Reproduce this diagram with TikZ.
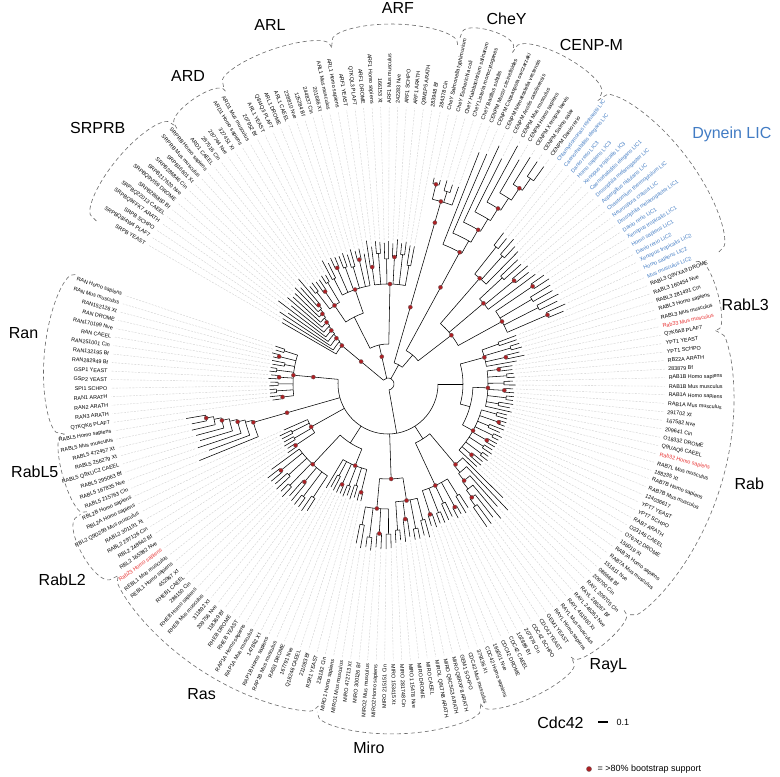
\documentclass[tikz,border=0pt]{standalone}
\usepackage{fontspec}
\setmainfont{Liberation Sans}
\definecolor{dotred}{RGB}{172,32,36}
\definecolor{dynblue}{RGB}{66,124,196}
\definecolor{hired}{RGB}{232,48,48}
\definecolor{guidec}{RGB}{205,205,205}
\definecolor{outc}{RGB}{105,105,105}
\newcommand{\thz}{98.6}
\newcommand{\dth}{1.769}
\newcommand{\RR}{280}
\newcommand{\setang}[2]{\pgfmathsetmacro#1{\thz-((#2)+5.5*((#2)>168))*\dth}}
\newcommand{\leaf}[3]{%
  \setang\lfA{#1}%
  \pgfmathsetmacro\lfT{#3-0.25*(#3-#2)*abs(sin((#1)*77))}%
  \draw[br] (\lfA:#2) -- (\lfA:\lfT);%
  \pgfmathsetmacro\lfG{\lfT+3}\pgfmathsetmacro\lfE{\RR-3}%
  \draw[guide] (\lfA:\lfG) -- (\lfA:\lfE);}
\newcommand{\grp}[5]{%
  \setang\gA{#1}\setang\gB{#2}%
  \pgfmathsetmacro\gM{(\gA+\gB)/2}%
  \draw[br] (\gM:#3) -- (\gM:#4);%
  \pgfmathtruncatemacro\gN{#1+2}%
  \pgfmathtruncatemacro\gL{#1+2*floor((#2-#1)/2)}%
  \setang\pA{#1}\setang\pAA{#1+1}\pgfmathsetmacro\pA{(\pA+\pAA)/2}%
  \ifnum\gL<#2\relax \setang\pB{\gL}\setang\pBB{\gL+1}\pgfmathsetmacro\pB{(\pB+\pBB)/2}\else\setang\pB{\gL}\fi
  \draw[br] (\pA:#4) arc[start angle=\pA, end angle=\pB, radius=#4pt];%
  \foreach \k in {#1,\gN,...,#2}{%
    \pgfmathtruncatemacro\kk{\k+1}%
    \ifnum\kk>#2\relax \leaf{\k}{#4}{#5}%
    \else
      \setang\ka{\k}\setang\kb{\kk}%
      \pgfmathsetmacro\km{(\ka+\kb)/2}%
      \pgfmathsetmacro\rs{#4+(#5-#4)*(0.4+0.3*abs(sin(\k*53)))}%
      \draw[br] (\km:#4) -- (\km:\rs);%
      \draw[br] (\ka:\rs) arc[start angle=\ka, end angle=\kb, radius=\rs pt];%
      \leaf{\k}{\rs}{#5}\leaf{\kk}{\rs}{#5}%
      \pgfmathtruncatemacro\kmod{mod(\k,3)}%
      \ifnum\kmod=0 \fill[dot] (\km:\rs) circle[radius=2.1pt];\fi
    \fi}%
  \fill[dot] (\gM:#4) circle[radius=2.1pt];}
\newcommand{\lad}[6]{%
  \setang\lA{#1}\setang\lB{#2}%
  \pgfmathsetmacro\lM{(\lA+\lB)/2}%
  \draw[br] (\lM:#3) -- (\lM:#4);%
  \pgfmathtruncatemacro\lN{#2-1}%
  \foreach \k in {#1,...,\lN}{%
    \pgfmathsetmacro\rk{#4+(#5-#4)*(\k-#1)/max(1,\lN-#1)}%
    \pgfmathsetmacro\rkn{#4+(#5-#4)*(\k+1-#1)/max(1,\lN-#1)}%
    \setang\tk{\k}\setang\tl{#2}%
    \pgfmathtruncatemacro\kn{\k+1}\setang\tn{\kn}%
    \pgfmathsetmacro\phk{(\tk+\tl)/2}%
    \ifnum\k<\lN\relax \pgfmathsetmacro\phn{(\tn+\tl)/2}\else \pgfmathsetmacro\phn{\tl}\fi
    \draw[br] (\tk:\rk) arc[start angle=\tk, end angle=\phn, radius=\rk pt];%
    \leaf{\k}{\rk}{#6}%
    \ifnum\k<\lN\relax \draw[br] (\phn:\rk) -- (\phn:\rkn);\else \leaf{#2}{\rk}{#6}\fi
    \pgfmathtruncatemacro\kmod{mod(\k-#1,2)}%
    \ifnum\kmod=0 \fill[dot] (\phk:\rk) circle[radius=2.1pt];\fi}}
\newcommand{\labs}[3]{%
  \foreach \t [count=\j from #1] in {#3}{%
    \setang\lbA{\j}%
    \pgfmathsetmacro\lbC{cos(\lbA)}%
    \ifdim\lbC pt>0pt
      \node[leaflab,text=#2,anchor=west,rotate=\lbA] at (\lbA:\RR) {\t};%
    \else
      \pgfmathsetmacro\lbB{\lbA+180}%
      \node[leaflab,text=#2,anchor=east,rotate=\lbB] at (\lbA:\RR) {\t};%
    \fi}}
\newcommand{\outl}[4]{%
  \setang\oA{#1}\setang\oB{#2}%
  \pgfmathsetmacro\oA{\oA+0.5*\dth}\pgfmathsetmacro\oB{\oB-0.5*\dth}%
  \draw[outline] plot[domain=0:1,samples=50,smooth,variable=\u]
    ({\oA+(\oB-\oA)*\u}:{#4+(#3-#4)*(1.0001-(2*\u-1)*(2*\u-1))^0.25});}
\newcommand{\glab}[4]{\node[grplab,text=#4] at (#2:#3) {#1};}
\tikzset{
  br/.style={line width=0.55pt, black},
  guide/.style={line width=0.35pt, guidec, dash pattern=on 2pt off 1.3pt},
  outline/.style={line width=0.6pt, outc, dash pattern=on 4pt off 3pt},
  dot/.style={fill=dotred, draw=black!60, line width=0.25pt},
  leaflab/.style={font=\fontsize{5.4}{6}\selectfont, inner sep=0.6pt},
  grplab/.style={font=\fontsize{16}{19}\selectfont, inner sep=0pt},
}
\begin{document}
\begin{tikzpicture}[x=1pt,y=1pt]
\useasboundingbox (0,0) rectangle (780,777);
\fill[white] (0,0) rectangle (780,777);
\begin{scope}[shift={(388,393)}]
% ---------- backbone ----------
\draw[br] (-80:6) arc[start angle=-80, end angle=140.2, radius=6pt];
\draw[br] (-80:6) -- (-80:50);
\draw[br] (0:50) arc[start angle=0, end angle=-185.3, radius=50pt];
% RabL3 + Rab
\draw[br] (0:50) -- (0:75);
\draw[br] (15.5:75) arc[start angle=15.5, end angle=-15.5, radius=75pt];
\grp{44}{50}{75}{100}{140}
\draw[br] (-15.5:75) -- (-15.5:85);
\draw[br] (-2.2:85) arc[start angle=-2.2, end angle=-28.8, radius=85pt];
\grp{51}{63}{85}{100}{128}
\grp{64}{80}{85}{97}{126}
% RayL + Cdc42
\draw[br] (-57.5:50) -- (-57.5:65);
\draw[br] (-50:65) arc[start angle=-50, end angle=-65.1, radius=65pt];
\lad{81}{87}{65}{105}{150}{178}
\grp{88}{97}{65}{112}{152}
% Miro
\draw[br] (-88.1:50) -- (-88.1:95);
\draw[br] (-81:95) arc[start angle=-81, end angle=-95.1, radius=95pt];
\fill[dot] (-88.1:95) circle[radius=2.1pt];
\grp{98}{105}{95}{118}{160}
\grp{106}{113}{95}{125}{168}
% Ras
\draw[br] (-122.6:50) -- (-122.6:70);
\draw[br] (-112:70) arc[start angle=-112, end angle=-133.2, radius=70pt];
\grp{114}{124}{70}{88}{122}
\grp{125}{137}{70}{110}{155}
% RabL2, RabL5, Ran
\grp{138}{144}{50}{88}{122}
\lad{145}{152}{50}{140}{185}{205}
\fill[dot] (-164.1:105) circle[radius=2.1pt];
\grp{153}{168}{50}{95}{120}
\fill[dot] (-185.3:75) circle[radius=2.1pt];
% upper right: CheY, CENP-M, Dynein
\draw[br] (61:6) -- (61:22);
\draw[br] (73.8:22) arc[start angle=73.8, end angle=49.55, radius=22pt];
\grp{12}{16}{22}{190}{212}
\fill[dot] (73.8:80) circle[radius=2.1pt];
\fill[dot] (73.8:168) circle[radius=2.1pt];
\draw[br] (49.55:22) -- (49.55:38);
\draw[br] (61.5:38) arc[start angle=61.5, end angle=37.6, radius=38pt];
\lad{17}{25}{38}{150}{250}{272}
\fill[dot] (61.5:110) circle[radius=2.1pt];
\draw[br] (37.6:38) -- (37.6:80);
\draw[br] (49.1:80) arc[start angle=49.1, end angle=28.7, radius=80pt];
\fill[dot] (37.6:80) circle[radius=2.1pt];
\grp{26}{30}{80}{140}{192}
\grp{31}{35}{80}{125}{185}
\grp{36}{43}{80}{130}{195}
% ARF, ARL, ARD
\draw[br] (102.8:6) -- (102.8:40);
\draw[br] (88.9:40) arc[start angle=88.9, end angle=116.75, radius=40pt];
\fill[dot] (102.8:28) circle[radius=2.1pt];
\grp{0}{11}{40}{100}{145}
\draw[br] (116.75:40) -- (116.75:75);
\draw[br] (109.2:75) arc[start angle=109.2, end angle=124.3, radius=75pt];
\grp{187}{197}{75}{100}{140}
\grp{181}{186}{75}{95}{128}
% SRPRB
\lad{169}{180}{6}{60}{105}{138}
\fill[dot] (140.2:35) circle[radius=2.1pt];
% ---------- leaf labels ----------
\labs{0}{black}{ARF1 YEAST, Q7KQL3 PLAF7, ARF1 DROME, ARF1 Homo sapiens, 166153 Xt, ARF1 Mus musculus, 242283 Nve, ARF1 SCHPO, ARF1 ARATH, Q9M1P5 ARATH, 283948 Bf, 284378 Cin}
\labs{12}{black}{CheY Salmonella typhimurium, CheY Escherichia coli, CheY Halobacterium salinarum, CheY Listeria monocytogenes, CheY Bacillus subtilis}
\labs{17}{black}{CENPM Mucor circinelloides, CENPM Capsaspora owczarzaki, CENPM Nematostella vectensis, CENPM Anolis carolinensis, CENPM Mus musculus, CENPM Homo sapiens, CENPM Xenopus laevis, CENPM Salmo salar, CENPM Danio rerio}
\labs{26}{dynblue}{Chlamydomonas reinhardtii LIC, Caenorhabditis elegans LIC, Danio rerio LIC3, Homo sapiens LIC3, Xenopus tropicalis LIC3, Caenorhabditis elegans LIC1, Drosophila melanogaster LIC, Aspergillus nidulans LIC, Chaetomium thermophilum LIC, Neurospora crassa LIC, Drosophila melanogaster LIC1, Danio rerio LIC1, Xenopus tropicalis LIC1, Homo sapiens LIC1, Danio rerio LIC2, Xenopus tropicalis LIC2, Homo sapiens LIC2, Mus musculus LIC2}
\labs{44}{black}{RABL3 Q9VXA9 DROME, RABL3 160454 Nve, RABL3 281491 Cin, RABL3 Homo sapiens, RABL3 Mus musculus}
\labs{49}{hired}{Rab33 Mus musculus}
\labs{50}{black}{Q7K6A8 PLAF7, YPT1 YEAST, YPT1 SCHPO, RB22A ARATH, 283879 Bf, RAB1B Homo sapiens, RAB1B Mus musculus, RAB1A Homo sapiens, RAB1A Mus musculus, 291702 Xt, 167582 Nve, 209641 Cin, O18332 DROME, Q9UAQ6 CAEEL}
\labs{64}{hired}{Rab32 Homo sapiens}
\labs{65}{black}{RAB7L Mus musculus, 188235 Xt, RAB7B Homo sapiens, RAB7B Mus musculus, 124036617, YPT7 YEAST, YPT7 SCHPO, RAB7 ARATH, O23146 CAEEL, O76742 DROME, 156019 Xt, RAB7A Homo sapiens, RAB7A Mus musculus, 151611 Nve, 086668 Bf, 209700 Cin}
\labs{81}{black}{RAYL 209705 Cin, RAYL 286267 Bf, RAYL 246262 Nve, RAYL 461960 Xt, RAYL Mus musculus, RAYL Homo sapiens, GEM1 YEAST}
\labs{88}{black}{CDC42 YEAST, CDC42 SCHPO, 207974 Cin, 102889 Bf, CDC42 CAEEL, CDC42 DROME, 169201 Nve, CDC42 Homo sapiens, 379136 Xt, CDC42 Mus musculus}
\labs{98}{black}{GEM1 SCHPO, MIRO Q8RXF8 ARATH, MIRO Q9C5G3 ARATH, MIROL Q9LTN8 ARATH, MIRO CAEEL, MIRO DROME, MIRO1 15478 Nve, MIRO 281748 Cin, MIRO 153415 Xt, MIRO 215151 Cin, MIRO2 Homo sapiens, MIRO2 Mus musculus, MIRO 300126 Bf, MIRO 472713 Xt, MIRO1 Mus musculus, MIRO1 Homo sapiens}
\labs{114}{black}{216182 Cin, RSR1 YEAST, 211083 Bf, Q18246 CAEEL, 167791 Nve, RAS3 DROME, RAP1B Mus musculus, RAP1B Homo sapiens, 147862 Xt, RAP1A Mus musculus, RAP1A Homo sapiens, RHEB YEAST, RHEB DROME, 118369 Bf, 209756 Nve, 311892 Xt, RHEB Mus musculus, RHEB Homo sapiens, 286150 Cin, RHEB1 CAEEL, 452967 Xt, REBL1 Homo sapiens, REBL1 Mus musculus}
\labs{137}{hired}{Rab23 Homo sapiens}
\labs{138}{black}{RBL2 165982 Nve, RBL2 248642 Bf, RABL2 297126 Cin, RABL2 301191 Xt, RBL2 Q9D299 Mus musculus, RBL2A Homo sapiens, RBL2B Homo sapiens}
\labs{145}{black}{RABL5 215763 Cin, RABL5 167835 Nve, RABL5 295063 Bf, RABL5 Q9XUC2 CAEEL, RABL5 256279 Xt, RABL5 472457 Xt, RABL5 Mus musculus, RABL5 Homo sapiens}
\labs{153}{black}{Q7KQK6 PLAF7, RAN3 ARATH, RAN2 ARATH, RAN1 ARATH, SPI1 SCHPO, GSP2 YEAST, GSP1 YEAST, RAN282949 Bf, RAN132195 Bf, RAN251001 Cin, RAN CAEEL, RAN170199 Nve, RAN DROME, RAN152126 Xt, RAN Mus musculus, RAN Homo sapiens}
\labs{169}{black}{SRPB YEAST, SRPBQ8I4W4 PLAF7, SRPB SCHPO, SRPBQ9FFK7 ARATH, SRPBQ22013 CAEEL, SRPB286850 Bf, SRPBQ9VI59 DROME, SRPB217620 Nve, SRPB286846 Cin, SRPB16601 Xt, SRPRB Mus musculus, SRPRB Homo sapiens}
\labs{181}{black}{ARD1 CAEEL, 287516 Cin, 287744 Nve, 327451 Xt, ARD1 Homo sapiens, ARD1 Mus musculus}
\labs{187}{black}{207952 Bf, ARL1 YEAST, Q8I4Q3 PLAF7, ARL1 DROME, ARL1 CAEEL, 238810 Nve, 125284 Bf, 244837 Cin, 201686 Xt, ARL1 Mus musculus, ARL1 Homo sapiens}
% ---------- clade outlines ----------
\outl{0}{11}{360}{340}
\outl{12}{16}{368}{352}
\outl{17}{25}{372}{352}
\outl{26}{43}{375}{350}
\outl{44}{50}{342}{330}
\outl{51}{80}{348}{330}
\outl{81}{87}{338}{326}
\outl{88}{97}{345}{330}
\outl{98}{113}{350}{332}
\outl{114}{137}{342}{328}
\outl{138}{144}{350}{330}
\outl{145}{152}{338}{326}
\outl{153}{168}{345}{325}
\outl{169}{180}{352}{332}
\outl{181}{186}{345}{330}
\outl{187}{197}{354}{338}
% ---------- clade names ----------
\glab{ARF}{88.5}{376}{black}
\glab{CheY}{72}{384}{black}
\glab{CENP-M}{59}{395}{black}
\glab{Dynein LIC}{36}{425}{dynblue}
\glab{RabL3}{12.5}{366}{black}
\glab{Rab}{-15.5}{375}{black}
\glab{RayL}{-52}{358}{black}
\glab{Cdc42}{-63}{380}{black}
\glab{Miro}{-93}{364}{black}
\glab{Ras}{-121}{362}{black}
\glab{RabL2}{-149}{380}{black}
\glab{RabL5}{-166}{364}{black}
\glab{Ran}{172}{368}{black}
\glab{SRPRB}{138.6}{387}{black}
\glab{ARD}{123}{367}{black}
\glab{ARL}{108.2}{378}{black}
\end{scope}
% ---------- legend ----------
\coordinate (sbA) at (598,55);
\coordinate (sbB) at (608,55);
\draw[line width=1.4pt] (sbA) -- (sbB);
\node[font=\fontsize{9}{10}\selectfont, anchor=west] (sbl) at (613,55) {0.1};
\fill[dot] (589,8) circle[radius=2.6pt];
\node[font=\fontsize{9}{10}\selectfont, anchor=west] (bsl) at (594,8) {= >80\% bootstrap support};
\end{tikzpicture}
\end{document}
